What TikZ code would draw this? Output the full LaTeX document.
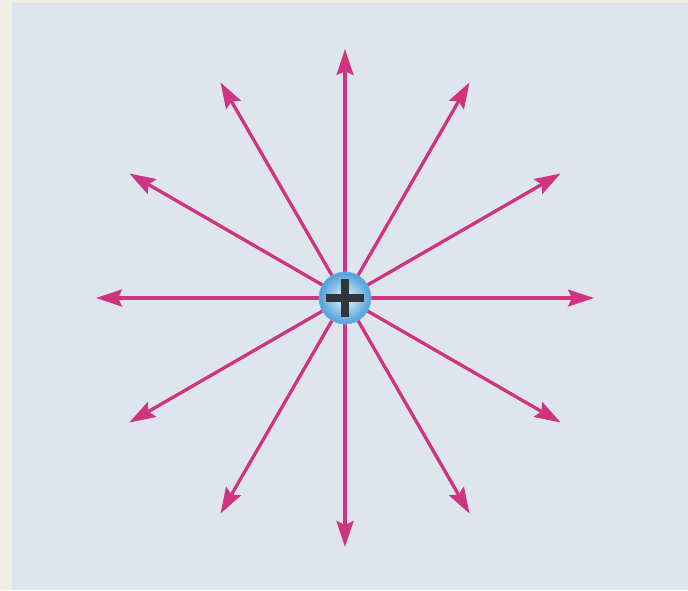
\documentclass[tikz,border=0pt]{standalone}
\usetikzlibrary{arrows.meta,calc}
\definecolor{panel}{HTML}{DFE5ED}
\definecolor{strip}{HTML}{EFEFE6}
\definecolor{field}{HTML}{CE347F}
\definecolor{ballin}{HTML}{E8F5FD}
\definecolor{ballout}{HTML}{4E9FDA}
\definecolor{plusc}{HTML}{333638}
\tikzset{
  fieldline/.style={draw=field, line width=3.3pt, -{Stealth[length=26pt,width=17pt,inset=4pt]}},
  charge/.style={circle, minimum size=52pt, inner sep=0pt, inner color=ballin, outer color=ballout, draw=ballout!80!white, line width=0.8pt},
}
\begin{document}
\begin{tikzpicture}[x=1pt,y=1pt]
\useasboundingbox (0,0) rectangle (688,-590);
\fill[strip] (0,0) rectangle (688,-590);
\fill[panel] (12,-3) rectangle (688,-590);
\coordinate (c) at (345,-298);
\foreach \a in {0,30,...,330}{
  \coordinate (t\a) at ($(c)+(\a:249)$);
}
\foreach \a in {0,30,...,330}{
  \draw[fieldline] (c) -- (t\a);
}
\node[charge] (q) at (c) {};
\fill[plusc] ($(q)+(-19,-4)$) rectangle ($(q)+(19,4)$);
\fill[plusc] ($(q)+(-4,-19)$) rectangle ($(q)+(4,19)$);
\end{tikzpicture}
\end{document}
